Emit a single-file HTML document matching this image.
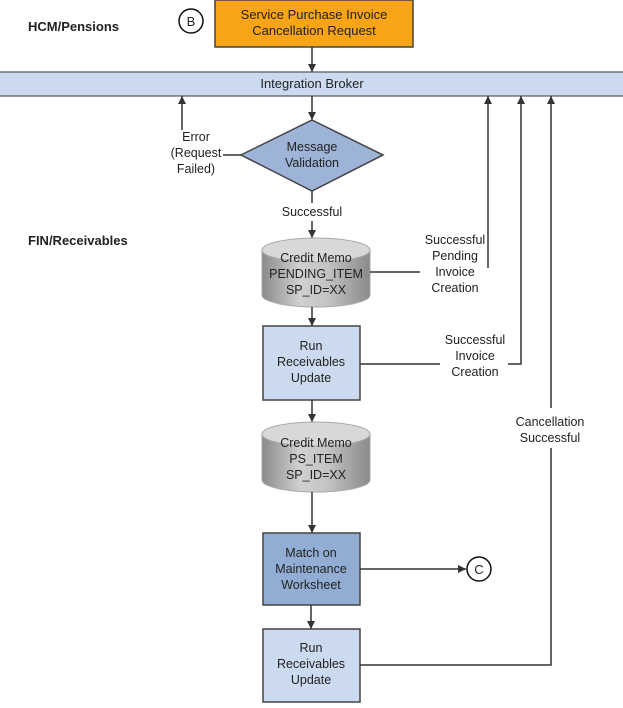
<!DOCTYPE html>
<html><head><meta charset="utf-8"><style>body{margin:0;background:#fff}svg{display:block}</style></head><body>
<svg width="623" height="708" viewBox="0 0 623 708" xmlns="http://www.w3.org/2000/svg" font-family="Liberation Sans, sans-serif" font-size="12.5" fill="#222">
<defs>
<marker id="a" viewBox="0 0 10 10" refX="10" refY="5" markerWidth="8" markerHeight="8" orient="auto" markerUnits="userSpaceOnUse"><path d="M0,0L10,5L0,10z" fill="#333"/></marker>
<linearGradient id="cyl" x1="0" x2="1" y1="0" y2="0"><stop offset="0" stop-color="#8a8a8a"/><stop offset="0.35" stop-color="#d0d0d0"/><stop offset="0.6" stop-color="#c4c4c4"/><stop offset="1" stop-color="#8a8a8a"/></linearGradient>
</defs>
<text x="28" y="31" font-weight="bold" font-size="13">HCM/Pensions</text>
<text x="28" y="245" font-weight="bold" font-size="13">FIN/Receivables</text>
<circle cx="191" cy="21" r="12" fill="#fff" stroke="#111" stroke-width="1.5"/>
<text x="191" y="26" text-anchor="middle" font-size="13">B</text>
<rect x="215" y="0" width="198" height="47" fill="#f7a416" stroke="#444" stroke-width="1.5"/>
<text x="314" y="19" text-anchor="middle" font-size="13">Service Purchase Invoice</text>
<text x="314" y="35" text-anchor="middle" font-size="13">Cancellation Request</text>
<line x1="312" y1="47" x2="312" y2="72" stroke="#333" stroke-width="1.5" marker-end="url(#a)"/>
<rect x="-1" y="72" width="625" height="24" fill="#cbdaee" stroke="#555" stroke-width="1.2"/>
<text x="312" y="88" text-anchor="middle" font-size="13">Integration Broker</text>
<line x1="312" y1="96" x2="312" y2="120" stroke="#333" stroke-width="1.5" marker-end="url(#a)"/>
<polygon points="312,120 383,155 312,191 241,155" fill="#9db3d8" stroke="#444" stroke-width="1.5"/>
<text x="312" y="151" text-anchor="middle">Message</text>
<text x="312" y="167" text-anchor="middle">Validation</text>
<polyline points="241,155 223,155" fill="none" stroke="#333" stroke-width="1.5"/>
<line x1="182" y1="130" x2="182" y2="96" stroke="#333" stroke-width="1.5" marker-end="url(#a)"/>
<text x="196" y="141" text-anchor="middle">Error</text>
<text x="196" y="157" text-anchor="middle">(Request</text>
<text x="196" y="173" text-anchor="middle">Failed)</text>
<line x1="312" y1="191" x2="312" y2="203" stroke="#333" stroke-width="1.5"/>
<text x="312" y="216" text-anchor="middle">Successful</text>
<line x1="312" y1="221" x2="312" y2="238" stroke="#333" stroke-width="1.5" marker-end="url(#a)"/>
<path d="M262,250 L262,295 A54,12 0 0 0 370,295 L370,250" fill="url(#cyl)" stroke="#aaa"/>
<ellipse cx="316" cy="250" rx="54" ry="12" fill="#d8d8d8" stroke="#aaa"/>
<text x="316" y="262" text-anchor="middle">Credit Memo</text>
<text x="316" y="278" text-anchor="middle">PENDING_ITEM</text>
<text x="316" y="294" text-anchor="middle">SP_ID=XX</text>
<line x1="370" y1="272" x2="420" y2="272" stroke="#333" stroke-width="1.5"/>
<text x="455" y="244" text-anchor="middle">Successful</text>
<text x="455" y="260" text-anchor="middle">Pending</text>
<text x="455" y="276" text-anchor="middle">Invoice</text>
<text x="455" y="292" text-anchor="middle">Creation</text>
<line x1="488" y1="268" x2="488" y2="96" stroke="#333" stroke-width="1.5" marker-end="url(#a)"/>
<line x1="312" y1="307" x2="312" y2="326" stroke="#333" stroke-width="1.5" marker-end="url(#a)"/>
<rect x="263" y="326" width="97" height="74" fill="#cbdaee" stroke="#444" stroke-width="1.5"/>
<text x="311" y="350" text-anchor="middle">Run</text>
<text x="311" y="366" text-anchor="middle">Receivables</text>
<text x="311" y="382" text-anchor="middle">Update</text>
<line x1="360" y1="364" x2="440" y2="364" stroke="#333" stroke-width="1.5"/>
<text x="475" y="344" text-anchor="middle">Successful</text>
<text x="475" y="360" text-anchor="middle">Invoice</text>
<text x="475" y="376" text-anchor="middle">Creation</text>
<polyline points="508,364 521,364 521,96" fill="none" stroke="#333" stroke-width="1.5" marker-end="url(#a)"/>
<line x1="312" y1="400" x2="312" y2="422" stroke="#333" stroke-width="1.5" marker-end="url(#a)"/>
<path d="M262,434 L262,480 A54,12 0 0 0 370,480 L370,434" fill="url(#cyl)" stroke="#aaa"/>
<ellipse cx="316" cy="434" rx="54" ry="12" fill="#d8d8d8" stroke="#aaa"/>
<text x="316" y="447" text-anchor="middle">Credit Memo</text>
<text x="316" y="463" text-anchor="middle">PS_ITEM</text>
<text x="316" y="479" text-anchor="middle">SP_ID=XX</text>
<line x1="312" y1="492" x2="312" y2="533" stroke="#333" stroke-width="1.5" marker-end="url(#a)"/>
<rect x="263" y="533" width="97" height="72" fill="#92add3" stroke="#444" stroke-width="1.5"/>
<text x="311" y="557" text-anchor="middle">Match on</text>
<text x="311" y="573" text-anchor="middle">Maintenance</text>
<text x="311" y="589" text-anchor="middle">Worksheet</text>
<line x1="360" y1="569" x2="466" y2="569" stroke="#333" stroke-width="1.5" marker-end="url(#a)"/>
<circle cx="479" cy="569" r="12" fill="#fff" stroke="#111" stroke-width="1.5"/>
<text x="479" y="574" text-anchor="middle" font-size="13">C</text>
<line x1="311" y1="605" x2="311" y2="629" stroke="#333" stroke-width="1.5" marker-end="url(#a)"/>
<rect x="263" y="629" width="97" height="73" fill="#cbdaee" stroke="#444" stroke-width="1.5"/>
<text x="311" y="652" text-anchor="middle">Run</text>
<text x="311" y="668" text-anchor="middle">Receivables</text>
<text x="311" y="684" text-anchor="middle">Update</text>
<polyline points="360,665 551,665 551,448" fill="none" stroke="#333" stroke-width="1.5"/>
<line x1="551" y1="408" x2="551" y2="96" stroke="#333" stroke-width="1.5" marker-end="url(#a)"/>
<text x="550" y="426" text-anchor="middle">Cancellation</text>
<text x="550" y="442" text-anchor="middle">Successful</text>
</svg>
</body></html>
